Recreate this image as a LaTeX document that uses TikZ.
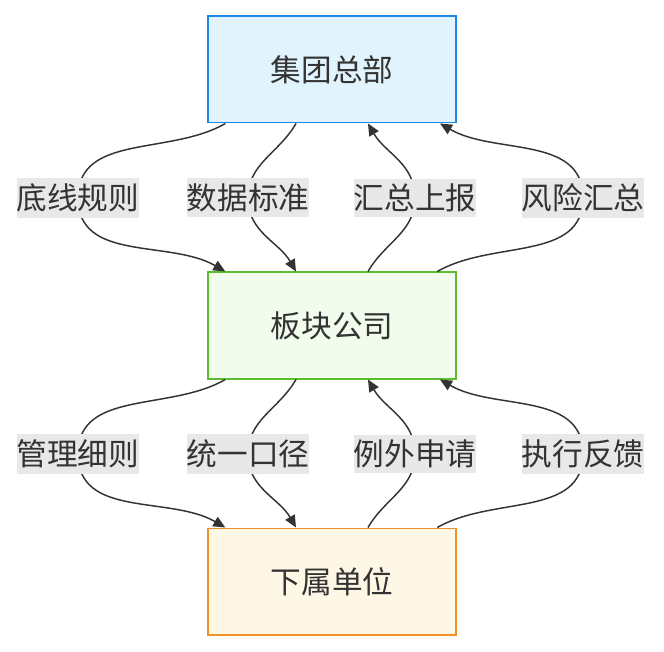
\documentclass[tikz,border=0pt]{standalone}
\usepackage{fontspec}
\setmainfont{Noto Sans CJK SC}
\usetikzlibrary{arrows.meta}
\definecolor{edge}{HTML}{333333}
\definecolor{lblbg}{HTML}{E8E8E8}
\definecolor{bluebd}{HTML}{1E88E5}
\definecolor{bluebg}{HTML}{E1F4FD}
\definecolor{greenbd}{HTML}{5DBB2E}
\definecolor{greenbg}{HTML}{F2FCEC}
\definecolor{orangebd}{HTML}{F0902A}
\definecolor{orangebg}{HTML}{FFF7E6}
\tikzset{
  box/.style={draw=#1, line width=1pt, minimum width=186pt, minimum height=80pt, inner sep=0pt, font=\fontsize{23pt}{26pt}\selectfont, text=edge},
  lbl/.style={fill=lblbg, inner xsep=0pt, inner ysep=4pt, font=\fontsize{23pt}{26pt}\selectfont, text=edge},
  conn/.style={draw=edge, line width=1.1pt},
  arr/.style={conn, -{Triangle[length=9pt,width=8pt]}}
}
\begin{document}
\begin{tikzpicture}[x=0.75pt,y=-0.75pt]
\useasboundingbox (0,0) rectangle (664,652);
\node[box=bluebd, fill=bluebg] (hq) at (332,69.5) {集团总部};
\node[box=greenbd, fill=greenbg] (mid) at (332,325.5) {板块公司};
\node[box=orangebd, fill=orangebg] (sub) at (332,581.5) {下属单位};
% upper edges
\coordinate (l1) at (78,198); \coordinate (l2) at (248,198); \coordinate (l3) at (415,198); \coordinate (l4) at (583,198);
\draw[conn] ([xshift=-80pt]hq.south) to[out=-150,in=90] (l1);
\draw[arr] (l1) to[out=-90,in=150] ([xshift=-80pt]mid.north);
\draw[conn] ([xshift=-27pt]hq.south) to[out=-120,in=90] (l2);
\draw[arr] (l2) to[out=-90,in=120] ([xshift=-27pt]mid.north);
\draw[conn] ([xshift=27pt]mid.north) to[out=60,in=-90] (l3);
\draw[arr] (l3) to[out=90,in=-60] ([xshift=27pt]hq.south);
\draw[conn] ([xshift=79pt]mid.north) to[out=30,in=-90] (l4);
\draw[arr] (l4) to[out=90,in=-30] ([xshift=81pt]hq.south);
\node[lbl] at (l1) {底线规则};
\node[lbl] at (l2) {数据标准};
\node[lbl] at (l3) {汇总上报};
\node[lbl] at (l4) {风险汇总};
% lower edges
\coordinate (m1) at (78,454); \coordinate (m2) at (248,454); \coordinate (m3) at (415,454); \coordinate (m4) at (583,454);
\draw[conn] ([xshift=-80pt]mid.south) to[out=-150,in=90] (m1);
\draw[arr] (m1) to[out=-90,in=150] ([xshift=-80pt]sub.north);
\draw[conn] ([xshift=-27pt]mid.south) to[out=-120,in=90] (m2);
\draw[arr] (m2) to[out=-90,in=120] ([xshift=-27pt]sub.north);
\draw[conn] ([xshift=27pt]sub.north) to[out=60,in=-90] (m3);
\draw[arr] (m3) to[out=90,in=-60] ([xshift=27pt]mid.south);
\draw[conn] ([xshift=79pt]sub.north) to[out=30,in=-90] (m4);
\draw[arr] (m4) to[out=90,in=-30] ([xshift=81pt]mid.south);
\node[lbl] at (m1) {管理细则};
\node[lbl] at (m2) {统一口径};
\node[lbl] at (m3) {例外申请};
\node[lbl] at (m4) {执行反馈};
\end{tikzpicture}
\end{document}
